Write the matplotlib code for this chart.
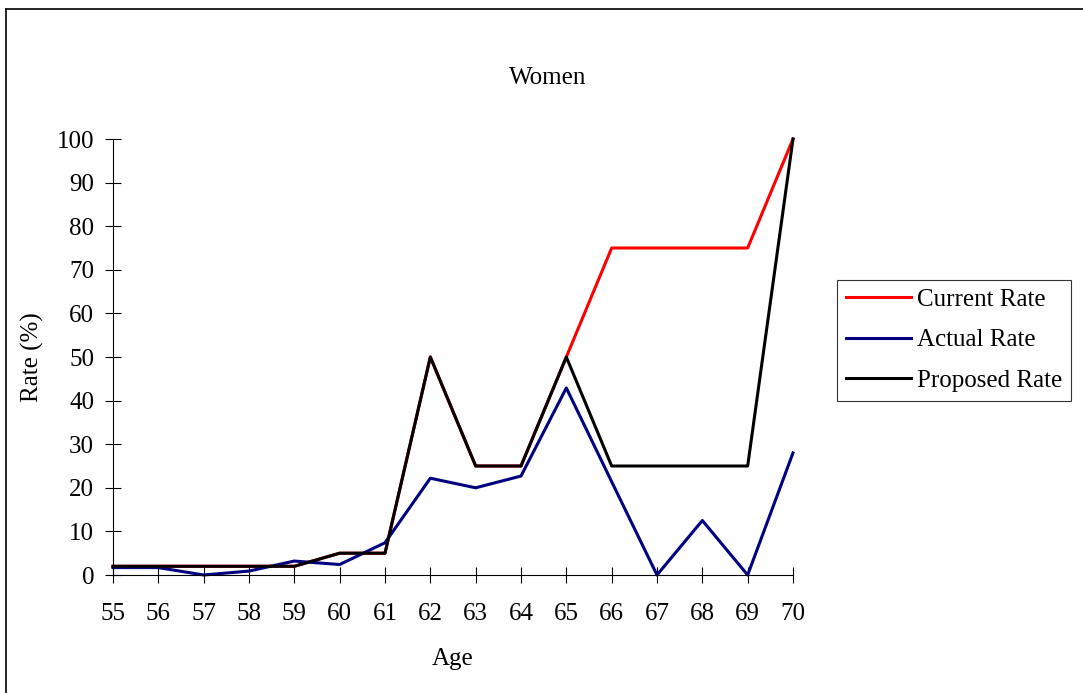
import matplotlib.pyplot as plt
from matplotlib.lines import Line2D

plt.rcParams['font.family'] = ['Liberation Serif', 'DejaVu Serif']

ages = list(range(55, 71))
current_rate = [2, 2, 2, 2, 2, 5, 5, 50, 25, 25, 50, 75, 75, 75, 75, 100]
actual_rate = [1.7, 1.7, 0, 0.9, 3.2, 2.4, 7.4, 22.2, 20, 22.7, 42.9, 21.4, 0, 12.5, 0, 28]
proposed_rate = [2, 2, 2, 2, 2, 5, 5, 50, 25, 25, 50, 25, 25, 25, 25, 100]

W, H = 1083, 693
fig = plt.figure(figsize=(W / 100, H / 100), dpi=100)
ax = fig.add_axes([113 / W, 1 - 575 / H, (793 - 113) / W, (575 - 139) / H])

ax.plot(ages, current_rate, color='#FF0000', lw=2.2, label='Current Rate')
ax.plot(ages, actual_rate, color='#000080', lw=2.2, label='Actual Rate')
ax.plot(ages, proposed_rate, color='black', lw=2.2, label='Proposed Rate')
for ln in ax.lines:
    ln.set_clip_on(False)

ax.set_xlim(55, 70)
ax.set_ylim(0, 100)
ax.set_xticks(ages)
ax.set_yticks(range(0, 101, 10))
ax.tick_params(direction='inout', length=12, width=0.8, labelsize=18)
ax.tick_params(axis='x', pad=14)
ax.tick_params(axis='y', pad=7.5)
for s in ['top', 'right']:
    ax.spines[s].set_visible(False)
for s in ['left', 'bottom']:
    ax.spines[s].set_linewidth(0.8)

ax.set_xlabel('Age', fontsize=18, labelpad=17)
ax.set_ylabel('Rate (%)', fontsize=18, labelpad=9)
fig.text(548 / W, 1 - 78 / H, 'Women', fontsize=18, ha='center', va='center')

leg = ax.legend(loc='center left', bbox_to_anchor=(837 / W, 1 - 340 / H),
                bbox_transform=fig.transFigure, fontsize=18, frameon=True,
                fancybox=False, edgecolor='black', handlelength=2.6,
                handletextpad=0.25, labelspacing=0.72, borderpad=0.35,
                borderaxespad=0)
leg.get_frame().set_linewidth(0.8)

# outer chart border: left and top edges
fig.add_artist(Line2D([6 / W, 6 / W], [0, 1 - 9 / H], color='black', lw=1.2,
                      transform=fig.transFigure))
fig.add_artist(Line2D([6 / W, 1], [1 - 9 / H, 1 - 9 / H], color='black', lw=1.2,
                      transform=fig.transFigure))

fig.savefig('out.png', dpi=100)
